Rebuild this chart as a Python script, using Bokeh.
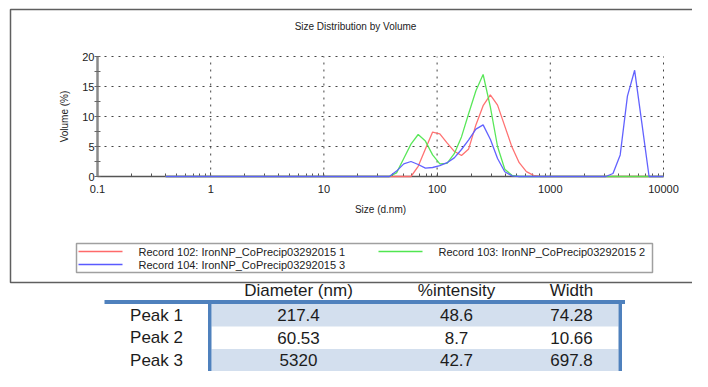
import math
from bokeh.plotting import figure
from bokeh.models import (Range1d, LinearScale, LogAxis, LinearAxis, FixedTicker,
                          NumeralTickFormatter)
from bokeh.core.properties import value
from bokeh.embed import file_html
from bokeh.resources import INLINE

# ---------------- data ----------------
sizes = [0.4, 0.4632, 0.5365, 0.6213, 0.7195, 0.8332, 0.9649, 1.117, 1.294, 1.499,
         1.736, 2.01, 2.328, 2.696, 3.122, 3.615, 4.187, 4.849, 5.615, 6.503,
         7.531, 8.721, 10.1, 11.7, 13.54, 15.69, 18.17, 21.04, 24.36, 28.21,
         32.67, 37.84, 43.82, 50.75, 58.77, 68.06, 78.82, 91.28, 105.7, 122.4,
         141.8, 164.2, 190.1, 220.2, 255.0, 295.3, 342.0, 396.1, 458.7, 531.2,
         615.1, 712.4, 825.0, 955.4, 1106, 1281, 1484, 1718, 1990, 2305,
         2669, 3091, 3580, 4145, 4801, 5560, 6439, 7456, 8635, 10000]

record_102 = [0, 0, 0, 0, 0, 0, 0, 0, 0, 0,
              0, 0, 0, 0, 0, 0, 0, 0, 0, 0,
              0, 0, 0, 0, 0, 0, 0, 0, 0, 0,
              0, 0, 0, 0, 0, 1.7, 4.6, 7.4, 7.1, 5.6,
              4.2, 3.5, 4.6, 8.6, 11.8, 13.6, 11.9, 8.4, 4.9, 2.3,
              0.8, 0.2, 0, 0, 0, 0, 0, 0, 0, 0,
              0, 0, 0, 0, 0, 0, 0, 0, 0, 0]

record_103 = [0, 0, 0, 0, 0, 0, 0, 0, 0, 0,
              0, 0, 0, 0, 0, 0, 0, 0, 0, 0,
              0, 0, 0, 0, 0, 0, 0, 0, 0, 0,
              0, 0, 0.6, 3.0, 5.4, 7.0, 5.9, 3.6, 2.1, 2.2,
              3.8, 6.6, 10.5, 14.3, 17.0, 11.6, 5.0, 1.2, 0.2, 0,
              0, 0, 0, 0, 0, 0, 0, 0, 0, 0,
              0, 0, 0, 0, 0, 0, 0, 0, 0, 0]

record_104 = [0, 0, 0, 0, 0, 0, 0, 0, 0, 0,
              0, 0, 0, 0, 0, 0, 0, 0, 0, 0,
              0, 0, 0, 0, 0, 0, 0, 0, 0, 0,
              0, 0, 0.9, 2.1, 2.5, 2.0, 1.4, 1.5, 1.8, 2.3,
              3.1, 4.5, 6.1, 7.9, 8.6, 6.2, 3.0, 0.8, 0.1, 0,
              0, 0, 0, 0, 0, 0, 0, 0, 0, 0,
              0, 0, 0.5, 3.6, 13.4, 17.7, 8.9, 0, 0, 0]

series_names = ["Record 102: IronNP_CoPrecip03292015 1",
                "Record 103: IronNP_CoPrecip03292015 2",
                "Record 104: IronNP_CoPrecip03292015 3"]
series_colors = ["#ff6a6a", "#50e650", "#5a5aff"]

x_ticks = [0.1, 1, 10, 100, 1000, 10000]
y_ticks = [0, 5, 10, 15, 20]
title_text = "Size Distribution by Volume"
x_label = "Size (d.nm)"
y_label = "Volume (%)"

table_header = ["Diameter (nm)", "%intensity", "Width"]
peak_names = ["Peak 1", "Peak 2", "Peak 3"]
peak_diameter = ["217.4", "60.53", "5320"]
peak_intensity = ["48.6", "8.7", "42.7"]
peak_width = ["74.28", "10.66", "697.8"]

# ---------------- layout (canvas pixels) ----------------
W, H = 692, 371
PX0, PY0 = 0, 0
PX1, PY1 = PX0 + W, PY0 + H
PLOT_L, PLOT_R, PLOT_T, PLOT_B = 97, 663, 56, 176

decade = (PLOT_R - PLOT_L) / (math.log10(x_ticks[-1]) - math.log10(x_ticks[0]))
la = math.log10(x_ticks[0]) - (PLOT_L - PX0) / decade
lb = la + W / decade
unit = (PLOT_B - PLOT_T) / (y_ticks[-1] - y_ticks[0])
y_top = y_ticks[-1] + (PLOT_T - PY0) / unit
y_bot = y_ticks[0] - (PY1 - PLOT_B) / unit

p = figure(width=W, height=H, x_axis_type="log",
           x_range=Range1d(10 ** la, 10 ** lb), y_range=Range1d(y_bot, y_top),
           x_axis_location=None, y_axis_location=None,
           toolbar_location=None, output_backend="svg", min_border=0)
p.outline_line_color = None
p.background_fill_color = "white"
p.border_fill_color = "white"
p.xgrid.visible = False
p.ygrid.visible = False
p.extra_x_ranges = {"px": Range1d(PX0, PX1)}
p.extra_x_scales = {"px": LinearScale()}
p.extra_y_ranges = {"py": Range1d(PY1, PY0)}
p.extra_y_scales = {"py": LinearScale()}
PXY = dict(x_range_name="px", y_range_name="py")
FONT = value("Liberation Sans")

# outer frame of the chart panel
p.quad(left=[10], right=[PX1 + 20], top=[9], bottom=[282], fill_color=None,
       line_color="#5f5f5f", line_width=1.5, **PXY)

# title
p.text(x=[355], y=[26], text=[title_text], text_align="center", text_baseline="middle",
       text_font=FONT, text_font_size="10px", text_color="#222222", **PXY)

# dotted grid
p.segment(x0=x_ticks[1:], x1=x_ticks[1:], y0=[y_ticks[0]] * 5, y1=[y_ticks[-1]] * 5,
          line_color="#444444", line_width=1, line_dash="2 5", level="underlay")
p.segment(x0=[x_ticks[0]] * 4, x1=[x_ticks[-1]] * 4, y0=y_ticks[1:], y1=y_ticks[1:],
          line_color="#444444", line_width=1, line_dash="2 5", level="underlay")

# data
for vals, col in zip([record_102, record_103, record_104], series_colors):
    p.line(sizes, vals, line_color=col, line_width=1.3, line_alpha=0.95)

# axes
minor_x = [m * t for t in x_ticks[:-1] for m in range(2, 10)]
xaxis = LogAxis(fixed_location=0, bounds=(x_ticks[0], x_ticks[-1]),
                ticker=FixedTicker(ticks=x_ticks, minor_ticks=minor_x),
                formatter=NumeralTickFormatter(format="0.[0]"),
                axis_label=x_label, level="underlay")
xaxis.axis_line_color = "#555555"
xaxis.axis_line_width = 1.5
xaxis.major_tick_in = 4
xaxis.major_tick_out = 0
xaxis.minor_tick_in = 3
xaxis.minor_tick_out = 0
xaxis.major_tick_line_color = "#555555"
xaxis.minor_tick_line_color = "#555555"
xaxis.major_label_standoff = 8
xaxis.major_label_text_font = "Liberation Sans"
xaxis.major_label_text_font_size = "11px"
xaxis.major_label_text_color = "#222222"
xaxis.axis_label_standoff = 8
xaxis.axis_label_text_font = "Liberation Sans"
xaxis.axis_label_text_font_size = "10px"
xaxis.axis_label_text_font_style = "normal"
xaxis.axis_label_text_color = "#222222"
p.add_layout(xaxis, "below")

minor_y = [(a + b) / 2 for a, b in zip(y_ticks[:-1], y_ticks[1:])]
yaxis = LinearAxis(fixed_location=x_ticks[0], bounds=(y_ticks[0], y_ticks[-1]),
                   ticker=FixedTicker(ticks=y_ticks, minor_ticks=minor_y),
                   axis_label=y_label, level="underlay")
yaxis.axis_line_color = "#8a8a8a"
yaxis.axis_line_width = 2.5
yaxis.major_tick_in = 3
yaxis.major_tick_out = 3
yaxis.minor_tick_in = 3
yaxis.minor_tick_out = 3
yaxis.major_tick_line_color = "#666666"
yaxis.minor_tick_line_color = "#666666"
yaxis.major_label_standoff = 0
yaxis.major_label_text_font = "Liberation Sans"
yaxis.major_label_text_font_size = "11px"
yaxis.major_label_text_color = "#222222"
yaxis.axis_label_standoff = 9
yaxis.axis_label_text_font = "Liberation Sans"
yaxis.axis_label_text_font_size = "10px"
yaxis.axis_label_text_font_style = "normal"
yaxis.axis_label_text_color = "#222222"
p.add_layout(yaxis, "left")

# legend box (drawn)
p.quad(left=[76], right=[652], top=[243], bottom=[272], fill_color="white",
       line_color="#a0a0a0", line_width=1.5, **PXY)
leg_col_x = [78, 378, 78]
leg_row_y = [251, 251, 264]
p.segment(x0=leg_col_x, x1=[x + 44 for x in leg_col_x], y0=leg_row_y, y1=leg_row_y,
          line_color=series_colors, line_width=1.3, **PXY)
p.text(x=[x + 60 for x in leg_col_x], y=leg_row_y, text=series_names,
       text_align="left", text_baseline="middle", text_font=FONT,
       text_font_size="11px", text_color="#222222", **PXY)

# ---------------- table ----------------
BLUE = "#4F81BD"
BAND = "#D3DFEE"
col_x = [298, 456, 571]
label_x = 156
header_y = 290
line_top, line_bot = 299.5, 303.5
row_h = (PY1 - line_bot) / 3
row_tops = [line_bot + i * row_h for i in range(3)]

band_rows = [0, 2]
p.quad(left=[211] * 2, right=[618] * 2, top=[row_tops[i] for i in band_rows],
       bottom=[row_tops[i] + row_h for i in band_rows], fill_color=BAND,
       line_color=None, **PXY)
p.quad(left=[104], right=[624.5], top=[line_top], bottom=[line_bot], fill_color=BLUE,
       line_color=None, **PXY)
p.quad(left=[207.5, 618], right=[211, 621.5], top=[line_bot, line_bot], bottom=[PY1 + 2] * 2,
       fill_color=BLUE, line_color=None, **PXY)

tfont = dict(text_font=FONT, text_font_size="17px", text_color="#1c1c1c",
             text_align="center", text_baseline="middle")
p.text(x=col_x, y=[header_y] * 3, text=table_header, **tfont, **PXY)
row_y = [t + row_h / 2 for t in row_tops]
p.text(x=[label_x] * 3, y=row_y, text=peak_names, **tfont, **PXY)
for cx, vals in zip(col_x, [peak_diameter, peak_intensity, peak_width]):
    p.text(x=[cx] * 3, y=row_y, text=vals, **tfont, **PXY)

open("out.html", "w").write(file_html(p, INLINE))
